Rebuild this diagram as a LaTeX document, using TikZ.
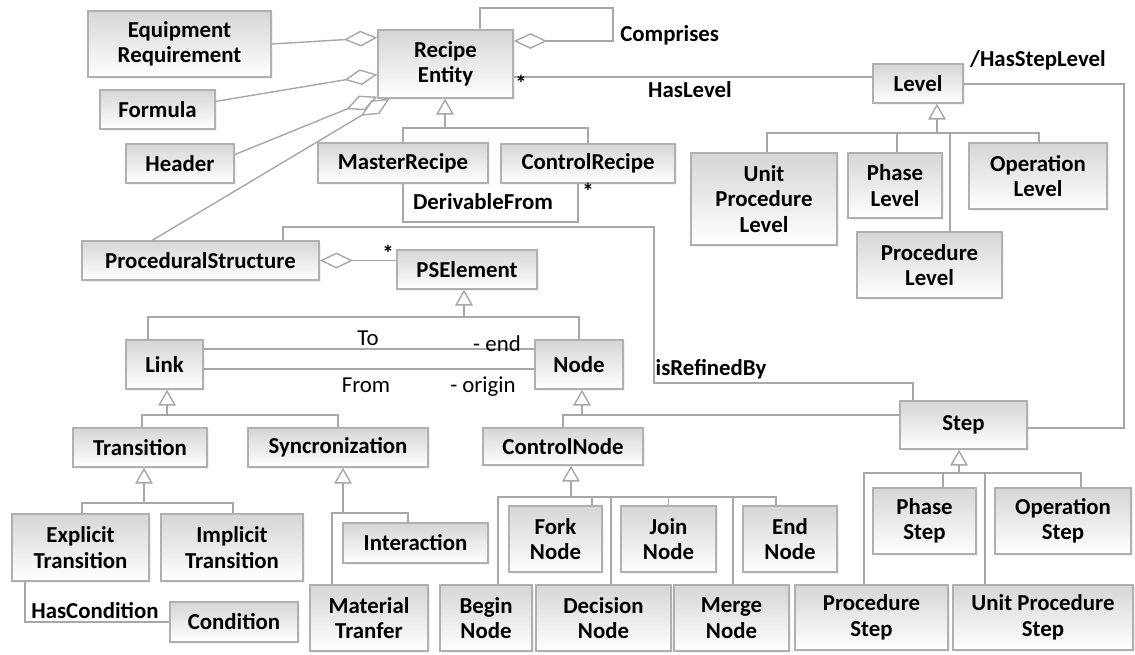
\documentclass[tikz,border=0pt]{standalone}
\usepackage{fontspec}
\setmainfont{Carlito}
\usepackage{tikz}
\usetikzlibrary{positioning,calc,arrows.meta,shadows}
\definecolor{boxline}{HTML}{B0B0B0}
\definecolor{umlline}{HTML}{A8A8A8}
\def\px{0.02cm}
\tikzstyle{cls} = [draw=boxline, line width=0.8pt, top color=black!16, bottom color=white, align=center, inner sep=0pt, font=\fontsize{13}{14.5}\selectfont\bfseries, drop shadow={shadow xshift=1pt, shadow yshift=-1pt, fill=black!10}]
\tikzstyle{assoc} = [draw=umlline, line width=0.8pt]
\tikzstyle{gen} = [assoc, -{Triangle[open, length=9pt, width=10pt]}]
\tikzstyle{agg} = [assoc, -{Diamond[open, length=19pt, width=9pt]}]
\tikzstyle{lbl} = [font=\fontsize{13}{14.5}\selectfont\bfseries, inner sep=0pt]
\tikzstyle{role} = [font=\fontsize{13}{14.5}\selectfont, inner sep=0pt]
\begin{document}
\begin{tikzpicture}[x=0.02cm, y=-0.02cm]
\fill[white] (0,0) rectangle (1135,654);
\useasboundingbox (0,0) rectangle (1135,654);
\node[cls, minimum width=183*\px, minimum height=66*\px] (eq) at (179.5,44) {Equipment\\Requirement};
\node[cls, minimum width=115*\px, minimum height=39*\px] (form) at (157.5,109.5) {Formula};
\node[cls, minimum width=108*\px, minimum height=39*\px] (head) at (180,163.5) {Header};
\node[cls, minimum width=135*\px, minimum height=68*\px] (re) at (445.5,64) {Recipe\\Entity};
\node[cls, minimum width=170*\px, minimum height=40*\px] (mr) at (403,163) {MasterRecipe};
\node[cls, minimum width=174*\px, minimum height=39*\px] (cr) at (588,163.5) {ControlRecipe};
\node[cls, minimum width=90*\px, minimum height=39*\px] (lev) at (918,83.5) {Level};
\node[cls, minimum width=146*\px, minimum height=92*\px] (upl) at (764,199) {Unit\\Procedure\\Level};
\node[cls, minimum width=94*\px, minimum height=65*\px] (phl) at (895,185.5) {Phase\\Level};
\node[cls, minimum width=138*\px, minimum height=66*\px] (opl) at (1038,176) {Operation\\Level};
\node[cls, minimum width=145*\px, minimum height=66*\px] (prl) at (929.5,265) {Procedure\\Level};
\node[cls, minimum width=237*\px, minimum height=39*\px] (ps) at (200.5,260.5) {ProceduralStructure};
\node[cls, minimum width=140*\px, minimum height=39*\px] (pse) at (467,269.5) {PSElement};
\node[cls, minimum width=77*\px, minimum height=49*\px] (link) at (164.5,364.5) {Link};
\node[cls, minimum width=88*\px, minimum height=49*\px] (nd) at (579,364.5) {Node};
\node[cls, minimum width=134*\px, minimum height=39*\px] (tr) at (140,447.5) {Transition};
\node[cls, minimum width=180*\px, minimum height=39*\px] (sync) at (338,447.5) {Syncronization};
\node[cls, minimum width=137*\px, minimum height=67*\px] (et) at (80.5,547.5) {Explicit\\Transition};
\node[cls, minimum width=142*\px, minimum height=67*\px] (it) at (232,547.5) {Implicit\\Transition};
\node[cls, minimum width=128*\px, minimum height=40*\px] (cond) at (234,622) {Condition};
\node[cls, minimum width=145*\px, minimum height=40*\px] (inter) at (415.5,543) {Interaction};
\node[cls, minimum width=118*\px, minimum height=66*\px] (mt) at (369,618) {Material\\Tranfer};
\node[cls, minimum width=160*\px, minimum height=37*\px] (cn) at (563,446.5) {ControlNode};
\node[cls, minimum width=93*\px, minimum height=66*\px] (fork) at (555.5,539) {Fork\\Node};
\node[cls, minimum width=95*\px, minimum height=66*\px] (join) at (668.5,539) {Join\\Node};
\node[cls, minimum width=94*\px, minimum height=66*\px] (endn) at (790,539) {End\\Node};
\node[cls, minimum width=92*\px, minimum height=66*\px] (begin) at (486,618) {Begin\\Node};
\node[cls, minimum width=135*\px, minimum height=66*\px] (dec) at (603.5,618) {Decision\\Node};
\node[cls, minimum width=115*\px, minimum height=66*\px] (merge) at (731.5,618) {Merge\\Node};
\node[cls, minimum width=127*\px, minimum height=48*\px] (step) at (963.5,425) {Step};
\node[cls, minimum width=103*\px, minimum height=66*\px] (phs) at (924.5,521) {Phase\\Step};
\node[cls, minimum width=136*\px, minimum height=66*\px] (ops) at (1063,521) {Operation\\Step};
\node[cls, minimum width=153*\px, minimum height=65*\px] (prs) at (871.5,617.5) {Procedure\\Step};
\node[cls, minimum width=180*\px, minimum height=65*\px] (ups) at (1043,617.5) {Unit Procedure\\Step};
\draw[agg] (eq.east) -- ($(re.north west)!0.12!(re.south west)$);
\draw[agg] ($(form.north east)!0.3!(form.south east)$) -- ($(re.north west)!0.65!(re.south west)$);
\draw[agg] ($(head.north east)!0.28!(head.south east)$) -- ($(re.north west)!0.97!(re.south west)$);
\draw[agg] ($(ps.north west)+(71,0)$) -- ($(re.south west)!0.09!(re.south east)$);
\coordinate (cmp1) at (480,8);
\coordinate (cmp2) at (613,41);
\draw[agg] (cmp1 |- re.north) -- (cmp1) -| (cmp2) -- (cmp2 -| re.east);
\coordinate (hl) at (0,77);
\draw[assoc] (hl -| re.east) -- (hl -| lev.west);
\coordinate (hsl1) at (1124,84);
\coordinate (hsl2) at (1124,428);
\draw[assoc] (hsl1 -| lev.east) -- (hsl1) -- (hsl2) -- (hsl2 -| step.east);
\coordinate (df) at (0,222);
\draw[assoc] (mr.south) -- (mr.south |- df) -| ($(cr.south)+(-10,0)$);
\coordinate (ir1) at (654,227);
\coordinate (ir2) at (654,383);
\draw[assoc] ($(ps.north)+(82.5,0)$) |- (ir1) -- (ir2) -| ($(step.north)+(-50.5,0)$);
\draw[agg] (ps.east -| pse.west) -- (ps.east);
\coordinate (to) at (0,349);
\coordinate (from) at (0,369);
\draw[assoc] (to -| link.east) -- (to -| nd.west);
\draw[assoc] (from -| link.east) -- (from -| nd.west);
\draw[assoc] ($(et.south)+(-55.5,0)$) |- (cond.west);
\coordinate (rebus) at (445,128);
\draw[gen] (rebus) -- (rebus |- re.south);
\draw[assoc] (mr.north) |- (rebus) -| (cr.north);
\coordinate (levbus) at (937,133);
\draw[gen] (levbus) -- (levbus |- lev.south);
\draw[assoc] ($(upl.north)+(3,0)$) |- (levbus) -| ($(opl.north)+(1,0)$);
\draw[assoc] ($(phl.north)+(2,0)$) |- (levbus);
\draw[assoc] ($(prl.north)+(20.5,0)$) |- (levbus);
\coordinate (psebus) at (464,317);
\draw[gen] (psebus) -- (psebus |- pse.south);
\draw[assoc] ($(link.north)+(-16.5,0)$) |- (psebus) -| (nd.north);
\coordinate (linkbus) at (167,415);
\draw[gen] (linkbus) -- (linkbus |- link.south);
\draw[assoc] ($(tr.north)+(2,0)$) |- (linkbus) -| (sync.north);
\coordinate (trbus) at (144,503);
\draw[gen] (trbus) -- (trbus |- tr.south);
\draw[assoc] ($(et.north)+(1.5,0)$) |- (trbus) -| ($(it.north)+(1,0)$);
\coordinate (syncbus) at (343,513);
\draw[gen] (syncbus) -- (syncbus |- sync.south);
\draw[assoc] ($(mt.north)+(-37,0)$) |- (syncbus) -| ($(inter.north)+(-7.5,0)$);
\coordinate (ndbus) at (582,415);
\draw[gen] (ndbus) -- (ndbus |- nd.south);
\draw[assoc] (cn.north) |- (ndbus) -- (ndbus -| step.west);
\coordinate (cnbus) at (571,497);
\draw[gen] (cnbus) -- (cnbus |- cn.south);
\draw[assoc] ($(begin.north)+(12,0)$) |- (cnbus) -| ($(endn.north)+(-14,0)$);
\foreach \n/\dx in {fork/36.5, dec/7.5, join/0, merge/1.5}
  \draw[assoc] ($(\n.north)+(\dx,0)$) |- (cnbus);
\coordinate (stepbus) at (959,473);
\draw[gen] (stepbus) -- (stepbus |- step.south);
\draw[assoc] ($(prs.north)+(-7.5,0)$) |- (stepbus) -| ($(ops.north)+(18,0)$);
\draw[assoc] ($(phs.north)+(18.5,0)$) |- (stepbus);
\draw[assoc] ($(ups.north)+(-58,0)$) |- (stepbus);
\node[lbl, anchor=west] (cmplbl) at (620,35) {Comprises};
\node[lbl] (hllbl) at (690,90) {HasLevel};
\node[lbl] (hsllbl) at (1038,60) {/HasStepLevel};
\node[lbl] (dflbl) at (483,202) {DerivableFrom};
\node[lbl] (irlbl) at (711,369) {isRefinedBy};
\node[lbl] (hclbl) at (95,611) {HasCondition};
\node[lbl] (st1) at (521,83) {*};
\node[lbl] (st2) at (588,191) {*};
\node[lbl] (st3) at (388,253) {*};
\node[role] (tolbl) at (368,338) {To};
\node[role] (fromlbl) at (366,385) {From};
\node[role] (endlbl) at (497,344) {- end};
\node[role] (origlbl) at (483,387) {- origin};
\end{tikzpicture}
\end{document}
